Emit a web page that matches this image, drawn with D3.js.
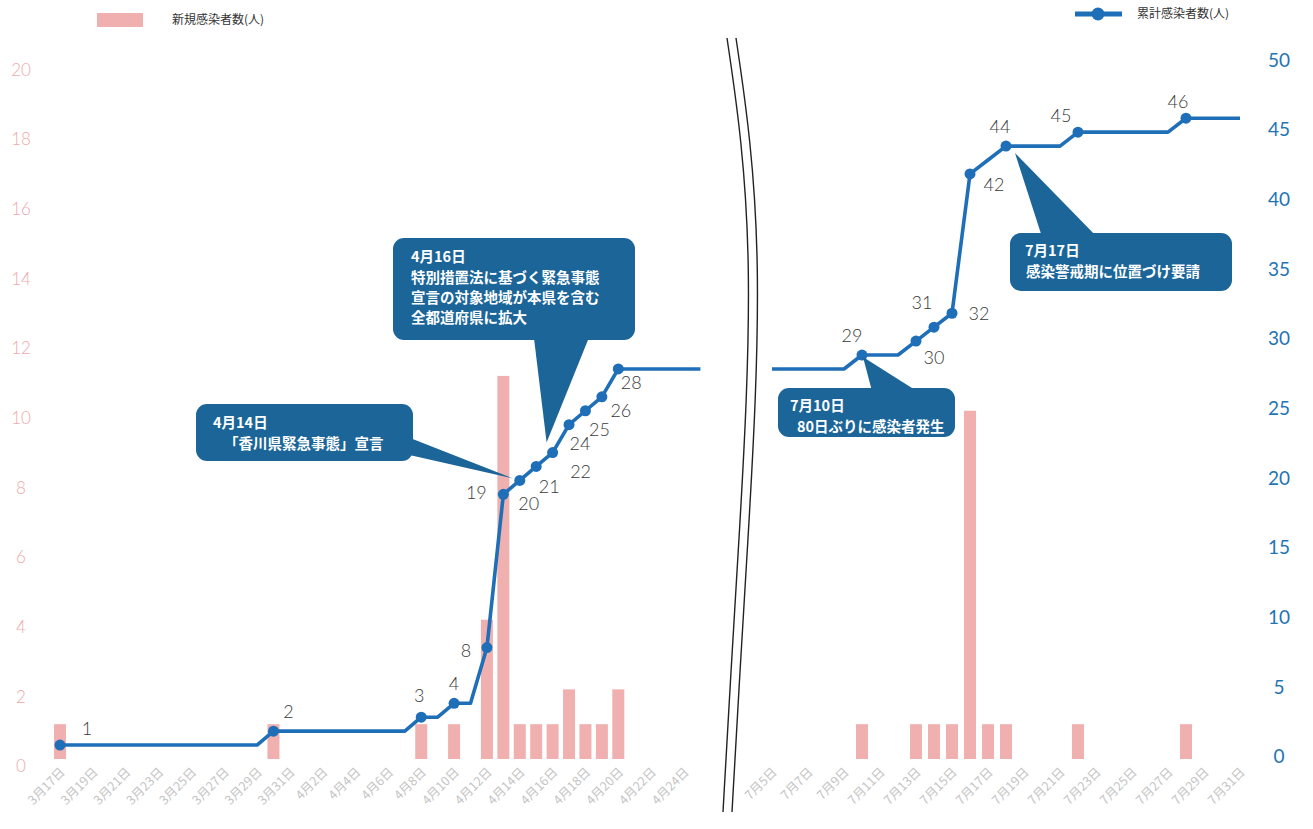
<!DOCTYPE html>
<html>
<head>
<meta charset="utf-8">
<script src="https://cdn.jsdelivr.net/npm/d3@7"></script>
<style>
  body { margin: 0; background: #fff; }
  svg { display: block; }
</style>
</head>
<body>
<svg id="chart" width="1313" height="829"></svg>
<script>
// ---- Spring period: 3/17 – 4/25 ----
const springDays = [
  "3/17","3/18","3/19","3/20","3/21","3/22","3/23","3/24","3/25","3/26","3/27","3/28","3/29","3/30","3/31",
  "4/1","4/2","4/3","4/4","4/5","4/6","4/7","4/8","4/9","4/10","4/11","4/12","4/13","4/14","4/15",
  "4/16","4/17","4/18","4/19","4/20","4/21","4/22","4/23","4/24","4/25"
];
// new cases per day
const springNew = [
  1,0,0,0,0,0,0,0,0,0,0,0,0,1,0,
  0,0,0,0,0,0,0,1,0,1,0,4,11,1,1,
  1,2,1,1,2,0,0,0,0,0
];
// cumulative cases per day
const springTotal = [
  1,1,1,1,1,1,1,1,1,1,1,1,1,2,2,
  2,2,2,2,2,2,2,3,3,4,4,8,19,20,21,
  22,24,25,26,28,28,28,28,28,28
];
const springMarked = ["3/17","3/30","4/8","4/10","4/12","4/13","4/14","4/15","4/16","4/17","4/18","4/19","4/20"];
const springTicks = ["3/17","3/19","3/21","3/23","3/25","3/27","3/29","3/31","4/2","4/4","4/6","4/8",
  "4/10","4/12","4/14","4/16","4/18","4/20","4/22","4/24"];

// ---- Summer period: 7/5 – 7/31 ----
const summerDays = [
  "7/5","7/6","7/7","7/8","7/9","7/10","7/11","7/12","7/13","7/14","7/15","7/16","7/17","7/18",
  "7/19","7/20","7/21","7/22","7/23","7/24","7/25","7/26","7/27","7/28","7/29","7/30","7/31"
];
const summerNew = [0,0,0,0,0,1,0,0,1,1,1,10,1,1,0,0,0,1,0,0,0,0,0,1,0,0,0];
const summerTotal = [28,28,28,28,28,29,29,29,30,31,32,42,43,44,44,44,44,45,45,45,45,45,45,46,46,46,46];
const summerMarked = ["7/10","7/13","7/14","7/15","7/16","7/18","7/22","7/28"];
const summerTicks = ["7/5","7/7","7/9","7/11","7/13","7/15","7/17","7/19","7/21","7/23","7/25","7/27","7/29","7/31"];

// ---- Axes ----
const leftTicks = [0,2,4,6,8,10,12,14,16,18,20];
const rightTicks = [0,5,10,15,20,25,30,35,40,45,50];

// ---- Styling / layout ----
const BAR = "#f0b0b0";
const LINE = "#1f6fb8";
const CALLOUT = "#1b6599";
const NUM_FONT = "Lato, 'Liberation Sans', sans-serif";
const JP_FONT = "'Noto Sans CJK JP', 'Noto Sans', sans-serif";

// value-label offsets (dx, dy) from each marker
const labelOffset = {
  "3/17":[27,-16], "3/30":[15,-19], "4/8":[-2,-22], "4/10":[0,-20], "4/12":[-21,3],
  "4/13":[-27,-2], "4/14":[9,23], "4/15":[13,20], "4/16":[28,19], "4/17":[11,19],
  "4/18":[14,19], "4/19":[19,14], "4/20":[13,14],
  "7/10":[-10,-19], "7/13":[18,17], "7/14":[-12,-24], "7/15":[27,0], "7/16":[24,11],
  "7/18":[-6,-19], "7/22":[-17,-16], "7/28":[-8,-17]
};

const svg = d3.select("#chart");
const yLeft = d3.scaleLinear().domain([0, 20]).range([759, 62.5]);
const yRight = d3.scaleLinear().domain([0, 50]).range([759, 62.5]);
const xSpring = d3.scalePoint().domain(springDays).range([60, 700.4]);
const xSummer = d3.scalePoint().domain(summerDays).range([772, 1240]);

const fmtDay = d => { const [m, dd] = d.split("/"); return `${m}月${dd}日`; };

// left axis (new cases)
const gl = svg.append("g").attr("transform", "translate(32,0)")
  .call(d3.axisLeft(yLeft).tickValues(leftTicks).tickSize(0).tickPadding(0));
gl.select(".domain").remove();
gl.selectAll("text")
  .attr("x", -11).attr("dy", "0.75em")
  .attr("text-anchor", "middle")
  .style("font-family", NUM_FONT).style("font-size", "17px").style("font-weight", 300)
  .attr("fill", "#eeaaaa");

// right axis (cumulative)
const gr = svg.append("g").attr("transform", "translate(1267,0)")
  .call(d3.axisRight(yRight).tickValues(rightTicks).tickSize(0).tickPadding(0));
gr.select(".domain").remove();
gr.selectAll("text")
  .attr("x", 12).attr("dy", "0.2em")
  .attr("text-anchor", "middle")
  .style("font-family", NUM_FONT).style("font-size", "19px").attr("fill", "#1f74b6");

function drawPeriod(x, days, news, totals, marked, ticks) {
  const rows = days.map((d, i) => ({ day: d, n: news[i], total: totals[i] }));

  // date axis
  const gx = svg.append("g").attr("transform", "translate(0,772)")
    .call(d3.axisBottom(x).tickValues(ticks).tickFormat(fmtDay).tickSize(0).tickPadding(0));
  gx.select(".domain").remove();
  gx.selectAll("text")
    .attr("x", 3).attr("y", 0).attr("dy", "0.35em")
    .attr("text-anchor", "end")
    .attr("transform", "rotate(-45)")
    .style("font-family", JP_FONT).style("font-size", "12.5px").attr("fill", "#c4c4c4");

  // daily bars
  svg.append("g").selectAll("rect")
    .data(rows.filter(r => r.n > 0))
    .join("rect")
    .attr("x", r => x(r.day) - 6)
    .attr("width", 12)
    .attr("y", r => yLeft(r.n))
    .attr("height", r => yLeft(0) - yLeft(r.n))
    .attr("fill", BAR);

  // cumulative line
  svg.append("path")
    .datum(rows)
    .attr("fill", "none")
    .attr("stroke", LINE)
    .attr("stroke-width", 3.6)
    .attr("stroke-linejoin", "round")
    .attr("d", d3.line().x(r => x(r.day)).y(r => yRight(r.total)));

  const pts = rows.filter(r => marked.includes(r.day));
  svg.append("g").selectAll("circle")
    .data(pts).join("circle")
    .attr("cx", r => x(r.day)).attr("cy", r => yRight(r.total))
    .attr("r", 5.5).attr("fill", LINE);

  svg.append("g").selectAll("text")
    .data(pts).join("text")
    .attr("x", r => x(r.day) + labelOffset[r.day][0])
    .attr("y", r => yRight(r.total) + labelOffset[r.day][1])
    .attr("dy", "0.35em")
    .attr("text-anchor", "middle")
    .style("font-family", NUM_FONT).style("font-size", "18px").style("font-weight", 300)
    .attr("fill", "#3a3a3a")
    .text(r => r.total);
}

drawPeriod(xSpring, springDays, springNew, springTotal, springMarked, springTicks);
drawPeriod(xSummer, summerDays, summerNew, summerTotal, summerMarked, summerTicks);

// axis break between the two periods
const breakPts = [[727,38],[742,140],[750,260],[747,400],[739,540],[731,670],[723,812]];
[0, 9].forEach(off => {
  svg.append("path")
    .attr("d", d3.line().curve(d3.curveBasis)(breakPts.map(([px, py]) => [px + off, py])))
    .attr("fill", "none").attr("stroke", "#222").attr("stroke-width", 1.4);
});

// legend
svg.append("rect").attr("x", 97).attr("y", 13).attr("width", 46).attr("height", 14).attr("fill", BAR);
svg.append("text").attr("x", 172).attr("y", 20).attr("dy", "0.35em")
  .style("font-family", JP_FONT).style("font-size", "12px").attr("fill", "#333")
  .text("新規感染者数(人)");
svg.append("line").attr("x1", 1075).attr("x2", 1122).attr("y1", 14).attr("y2", 14)
  .attr("stroke", LINE).attr("stroke-width", 5);
svg.append("circle").attr("cx", 1098).attr("cy", 14).attr("r", 6.5).attr("fill", LINE);
svg.append("text").attr("x", 1137).attr("y", 14).attr("dy", "0.35em")
  .style("font-family", JP_FONT).style("font-size", "12px").attr("fill", "#333")
  .text("累計感染者数(人)");

// callouts: rounded box with a wedge pointing at a marker
const callouts = [
  { x: xSpring, day: "4/14", total: 20, tip: [-7, -2], box: [196, 404, 217, 57],
    base: [[405, 436], [405, 454]],
    lines: [["4月14日", 213, 423], ["「香川県緊急事態」宣言", 224, 444]] },
  { x: xSpring, day: "4/16", total: 22, tip: [-6, -10], box: [393, 238, 242, 102],
    base: [[533, 330], [592, 330]],
    lines: [["4月16日", 411, 257], ["特別措置法に基づく緊急事態", 411, 278],
            ["宣言の対象地域が本県を含む", 411, 298], ["全都道府県に拡大", 411, 318]] },
  { x: xSummer, day: "7/10", total: 29, tip: [1, 2], box: [778, 388, 177, 49],
    base: [[873, 395], [923, 395]],
    lines: [["7月10日", 790, 406], ["80日ぶりに感染者発生", 797, 427]] },
  { x: xSummer, day: "7/18", total: 44, tip: [9, 7], box: [1010, 233, 222, 58],
    base: [[1043, 240], [1100, 240]],
    lines: [["7月17日", 1025, 251], ["感染警戒期に位置づけ要請", 1026, 272]] }
];

callouts.forEach(c => {
  const tx = c.x(c.day) + c.tip[0], ty = yRight(c.total) + c.tip[1];
  svg.append("path")
    .attr("d", `M${c.base[0][0]},${c.base[0][1]}L${tx},${ty}L${c.base[1][0]},${c.base[1][1]}Z`)
    .attr("fill", CALLOUT);
  const [bx, by, bw, bh] = c.box;
  svg.append("rect").attr("x", bx).attr("y", by).attr("width", bw).attr("height", bh)
    .attr("rx", 11).attr("fill", CALLOUT);
  c.lines.forEach(([t, lx, ly]) => {
    svg.append("text").attr("x", lx).attr("y", ly).attr("dy", "0.35em")
      .style("font-family", JP_FONT).style("font-size", "14.5px").style("font-weight", "bold")
      .attr("fill", "#fff").text(t);
  });
});
</script>
</body>
</html>
